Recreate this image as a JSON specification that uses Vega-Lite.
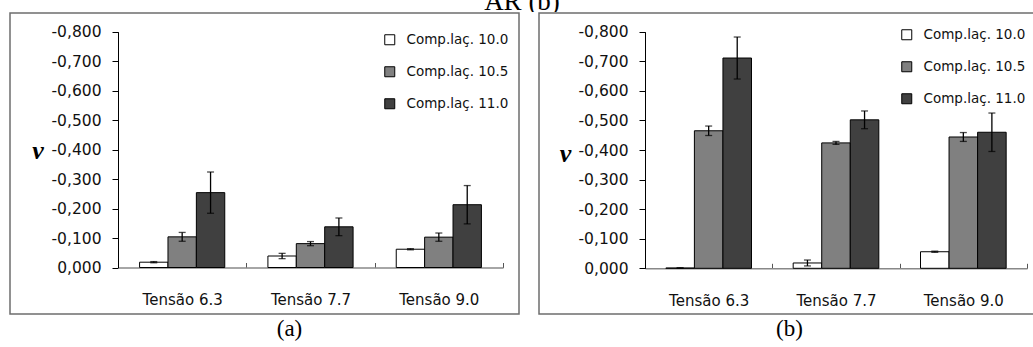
{
  "$schema": "https://vega.github.io/schema/vega-lite/v6.json",
  "background": "white",
  "padding": {"left": 9, "top": 0, "right": 0, "bottom": 0},
  "autosize": {"type": "pad"},
  "spacing": 0,
  "config": {
    "locale": {"number": {"decimal": ",", "thousands": ".", "grouping": [3], "currency": ["", ""], "minus": "-"}},
    "view": {"stroke": "#6e6e6e", "strokeWidth": 1.5},
    "axis": {"grid": false},
    "legend": {"title": null}
  },
  "datasets": {
    "top": [{"label": "AR (b)"}],
    "d": [
      {"panel": "a", "tensao": "Tensão 6.3", "comp": "Comp.laç. 10.0", "v": -0.018, "lo": -0.016, "hi": -0.020},
      {"panel": "a", "tensao": "Tensão 6.3", "comp": "Comp.laç. 10.5", "v": -0.104, "lo": -0.089, "hi": -0.119},
      {"panel": "a", "tensao": "Tensão 6.3", "comp": "Comp.laç. 11.0", "v": -0.254, "lo": -0.184, "hi": -0.324},
      {"panel": "a", "tensao": "Tensão 7.7", "comp": "Comp.laç. 10.0", "v": -0.039, "lo": -0.030, "hi": -0.048},
      {"panel": "a", "tensao": "Tensão 7.7", "comp": "Comp.laç. 10.5", "v": -0.081, "lo": -0.074, "hi": -0.088},
      {"panel": "a", "tensao": "Tensão 7.7", "comp": "Comp.laç. 11.0", "v": -0.138, "lo": -0.108, "hi": -0.168},
      {"panel": "a", "tensao": "Tensão 9.0", "comp": "Comp.laç. 10.0", "v": -0.062, "lo": -0.060, "hi": -0.064},
      {"panel": "a", "tensao": "Tensão 9.0", "comp": "Comp.laç. 10.5", "v": -0.103, "lo": -0.089, "hi": -0.117},
      {"panel": "a", "tensao": "Tensão 9.0", "comp": "Comp.laç. 11.0", "v": -0.213, "lo": -0.148, "hi": -0.278},
      {"panel": "b", "tensao": "Tensão 6.3", "comp": "Comp.laç. 10.0", "v": -0.001, "lo": 0.0, "hi": -0.002},
      {"panel": "b", "tensao": "Tensão 6.3", "comp": "Comp.laç. 10.5", "v": -0.465, "lo": -0.449, "hi": -0.481},
      {"panel": "b", "tensao": "Tensão 6.3", "comp": "Comp.laç. 11.0", "v": -0.711, "lo": -0.640, "hi": -0.782},
      {"panel": "b", "tensao": "Tensão 7.7", "comp": "Comp.laç. 10.0", "v": -0.018, "lo": -0.008, "hi": -0.028},
      {"panel": "b", "tensao": "Tensão 7.7", "comp": "Comp.laç. 10.5", "v": -0.424, "lo": -0.419, "hi": -0.429},
      {"panel": "b", "tensao": "Tensão 7.7", "comp": "Comp.laç. 11.0", "v": -0.502, "lo": -0.472, "hi": -0.532},
      {"panel": "b", "tensao": "Tensão 9.0", "comp": "Comp.laç. 10.0", "v": -0.056, "lo": -0.054, "hi": -0.058},
      {"panel": "b", "tensao": "Tensão 9.0", "comp": "Comp.laç. 10.5", "v": -0.444, "lo": -0.429, "hi": -0.459},
      {"panel": "b", "tensao": "Tensão 9.0", "comp": "Comp.laç. 11.0", "v": -0.460, "lo": -0.395, "hi": -0.525}
    ]
  },
  "vconcat": [
    {
      "width": 1024,
      "height": 12,
      "view": {"stroke": null},
      "data": {"name": "top"},
      "mark": {"type": "text", "clip": true, "font": "Liberation Serif", "fontSize": 27, "baseline": "alphabetic", "align": "center", "dy": 4, "color": "#000"},
      "encoding": {"text": {"field": "label"}}
    },
    {
      "hconcat": [
        {
          "width": 509,
          "height": 301,
          "title": {"text": "(a)", "orient": "bottom", "font": "Liberation Serif", "fontSize": 23, "fontWeight": "normal", "offset": 4, "dx": 25, "anchor": "middle", "color": "#000"},
          "data": {"name": "d"},
          "transform": [{"filter": "datum.panel == 'a'"}],
          "encoding": {
            "x": {"field": "tensao", "type": "nominal", "sort": null, "title": null,
              "scale": {"range": [108, 493], "paddingInner": 0, "paddingOuter": 0},
              "axis": {"labelAngle": 0, "tickBand": "extent", "tickSize": -5, "tickColor": "#555", "domainColor": "#888", "domainWidth": 1.5, "labelFont": "DejaVu Sans", "labelFontSize": 15, "labelColor": "#111", "labelPadding": 37, "labelBaseline": "middle", "offset": -46.5}},
            "xOffset": {"field": "comp", "type": "nominal", "scale": {"paddingInner": 0, "paddingOuter": 0.76}}
          },
          "layer": [
            {
              "mark": {"type": "bar", "stroke": "#000", "strokeWidth": 1},
              "encoding": {
                "y": {"field": "v", "type": "quantitative", "title": "ν",
                  "scale": {"domain": [0, -0.8], "range": [254.5, 18.7], "nice": false, "zero": false},
                  "axis": {"values": [0, -0.1, -0.2, -0.3, -0.4, -0.5, -0.6, -0.7, -0.8], "tickCount": 20, "labelOverlap": false, "format": ".3f", "offset": -108, "tickSize": 6, "tickColor": "#000", "domainColor": "#000", "labelFont": "DejaVu Sans", "labelFontSize": 15.5, "labelColor": "#111", "labelPadding": 11, "titleFont": "Liberation Serif", "titleFontSize": 26, "titleFontStyle": "italic", "titleFontWeight": "bold", "titleAngle": 0, "titleX": -80.5, "titleY": 145, "titleAlign": "center", "titleBaseline": "alphabetic", "titleColor": "#000"}},
                "color": {"field": "comp", "type": "nominal",
                  "scale": {"domain": ["Comp.laç. 10.0", "Comp.laç. 10.5", "Comp.laç. 11.0"], "range": ["#ffffff", "#808080", "#404040"]},
                  "legend": {"orient": "none", "legendX": 373, "legendY": 20, "direction": "vertical", "symbolType": "square", "symbolSize": 100, "symbolStrokeColor": "#000", "symbolStrokeWidth": 1, "labelFont": "DejaVu Sans", "labelFontSize": 13.5, "labelColor": "#111", "labelOffset": 10, "rowPadding": 17}}
              }
            },
            {
              "mark": {"type": "rule", "color": "#000", "strokeWidth": 1.3},
              "encoding": {"y": {"field": "lo", "type": "quantitative", "title": "ν"}, "y2": {"field": "hi"}}
            },
            {
              "mark": {"type": "tick", "color": "#000", "thickness": 1.3, "size": 7},
              "encoding": {"y": {"field": "lo", "type": "quantitative", "title": "ν"}}
            },
            {
              "mark": {"type": "tick", "color": "#000", "thickness": 1.3, "size": 7},
              "encoding": {"y": {"field": "hi", "type": "quantitative", "title": "ν"}}
            }
          ]
        },
        {
          "width": 495,
          "height": 301,
          "title": {"text": "(b)", "orient": "bottom", "font": "Liberation Serif", "fontSize": 23, "fontWeight": "normal", "offset": 4, "dx": 3, "anchor": "middle", "color": "#000"},
          "data": {"name": "d"},
          "transform": [{"filter": "datum.panel == 'b'"}],
          "encoding": {
            "x": {"field": "tensao", "type": "nominal", "sort": null, "title": null,
              "scale": {"range": [106, 488], "paddingInner": 0, "paddingOuter": 0},
              "axis": {"labelAngle": 0, "tickBand": "extent", "tickSize": -5, "tickColor": "#555", "domainColor": "#888", "domainWidth": 1.5, "labelFont": "DejaVu Sans", "labelFontSize": 15, "labelColor": "#111", "labelPadding": 37, "labelBaseline": "middle", "offset": -45.7}},
            "xOffset": {"field": "comp", "type": "nominal", "scale": {"paddingInner": 0, "paddingOuter": 0.73}}
          },
          "layer": [
            {
              "mark": {"type": "bar", "stroke": "#000", "strokeWidth": 1},
              "encoding": {
                "y": {"field": "v", "type": "quantitative", "title": "ν",
                  "scale": {"domain": [0, -0.8], "range": [255.3, 18.7], "nice": false, "zero": false},
                  "axis": {"values": [0, -0.1, -0.2, -0.3, -0.4, -0.5, -0.6, -0.7, -0.8], "tickCount": 20, "labelOverlap": false, "format": ".3f", "offset": -106, "tickSize": 6, "tickColor": "#000", "domainColor": "#000", "labelFont": "DejaVu Sans", "labelFontSize": 15.5, "labelColor": "#111", "labelPadding": 11, "titleFont": "Liberation Serif", "titleFontSize": 26, "titleFontStyle": "italic", "titleFontWeight": "bold", "titleAngle": 0, "titleX": -80, "titleY": 148, "titleAlign": "center", "titleBaseline": "alphabetic", "titleColor": "#000"}},
                "color": {"field": "comp", "type": "nominal",
                  "scale": {"domain": ["Comp.laç. 10.0", "Comp.laç. 10.5", "Comp.laç. 11.0"], "range": ["#ffffff", "#808080", "#404040"]},
                  "legend": {"orient": "none", "legendX": 361, "legendY": 15, "direction": "vertical", "symbolType": "square", "symbolSize": 100, "symbolStrokeColor": "#000", "symbolStrokeWidth": 1, "labelFont": "DejaVu Sans", "labelFontSize": 13.5, "labelColor": "#111", "labelOffset": 10, "rowPadding": 17}}
              }
            },
            {
              "mark": {"type": "rule", "color": "#000", "strokeWidth": 1.3},
              "encoding": {"y": {"field": "lo", "type": "quantitative", "title": "ν"}, "y2": {"field": "hi"}}
            },
            {
              "mark": {"type": "tick", "color": "#000", "thickness": 1.3, "size": 7},
              "encoding": {"y": {"field": "lo", "type": "quantitative", "title": "ν"}}
            },
            {
              "mark": {"type": "tick", "color": "#000", "thickness": 1.3, "size": 7},
              "encoding": {"y": {"field": "hi", "type": "quantitative", "title": "ν"}}
            }
          ]
        }
      ],
      "spacing": 18,
      "resolve": {"scale": {"color": "independent", "x": "independent", "y": "independent", "xOffset": "independent"}, "legend": {"color": "independent"}}
    }
  ]
}
